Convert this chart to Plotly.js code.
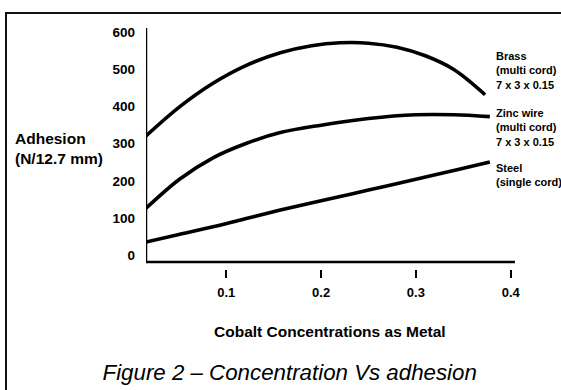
<!DOCTYPE html>
<html>
<head>
<meta charset="utf-8">
<script src="https://cdn.plot.ly/plotly-3.0.1.min.js"></script>
<style>
  html, body { margin: 0; padding: 0; background: #fff; overflow: hidden; }
  #chart { position: absolute; left: 0; top: 0; width: 561px; height: 390px; }
  #frame { position: absolute; left: 5px; top: 12px; width: 600px; height: 420px;
           border: 2px solid #111; box-sizing: border-box; pointer-events: none; }
</style>
</head>
<body>
<div id="chart"></div>
<div id="frame"></div>
<script>
// Cobalt concentration (as metal)
const brassX = [0.0153, 0.051, 0.086, 0.12, 0.157, 0.19, 0.22, 0.25, 0.28, 0.31, 0.34, 0.373];
const brassY = [321, 400, 463, 510, 545, 564, 572, 571, 560, 537, 500, 432];
const zincX  = [0.0153, 0.051, 0.086, 0.12, 0.157, 0.20, 0.25, 0.30, 0.34, 0.378];
const zincY  = [126, 205, 262, 300, 330, 350, 368, 378, 378, 373];
const steelX = [0.0153, 0.05, 0.086, 0.12, 0.157, 0.20, 0.25, 0.30, 0.34, 0.378];
const steelY = [35, 55, 76, 98, 121, 146, 175, 204, 228, 251];

const xTicks = [0.1, 0.2, 0.3, 0.4];
const xTickText = ['0.1', '0.2', '0.3', '0.4'];
const yTicks = [0, 100, 200, 300, 400, 500, 600];
const yTickText = ['0', '100', '200', '300', '400', '500', '600'];

const labelBrass = 'Brass<br>(multi cord)<br>7 x 3 x 0.15';
const labelZinc  = 'Zinc wire<br>(multi cord)<br>7 x 3 x 0.15';
const labelSteel = 'Steel<br>(single cord)';
const yTitle = 'Adhesion<br>(N/12.7 mm)';
const xTitle = 'Cobalt Concentrations as Metal';
const caption = 'Figure 2 – Concentration Vs adhesion';

const FONT = '"Liberation Sans", Arial, Helvetica, sans-serif';
const lineStyle = {color: '#000', width: 3.6, shape: 'spline', smoothing: 1.0};

const traces = [
  {x: brassX, y: brassY, mode: 'lines', line: lineStyle, name: 'Brass', hoverinfo: 'skip'},
  {x: zincX,  y: zincY,  mode: 'lines', line: lineStyle, name: 'Zinc wire', hoverinfo: 'skip'},
  {x: steelX, y: steelY, mode: 'lines', line: lineStyle, name: 'Steel', hoverinfo: 'skip'}
];

const xMin = 0.0153, xMax = 0.4056, yMin = -37.7, yMax = 611.9, yAxisAt = -19;
const labelFont = {family: FONT, size: 11, weight: 'bold', color: '#000'};
const labelX = (494 - 146) / 370;

const layout = {
  width: 561, height: 390,
  margin: {l: 146, r: 45, t: 28, b: 121},
  paper_bgcolor: '#fff', plot_bgcolor: '#fff',
  showlegend: false,
  font: {family: FONT, color: '#000'},
  title: {
    text: caption,
    font: {family: FONT, size: 22.3, style: 'italic', color: '#000'},
    xref: 'container', yref: 'container',
    x: 289.7 / 561, y: 1 - 372 / 390, xanchor: 'center', yanchor: 'middle'
  },
  xaxis: {
    range: [xMin, xMax], showgrid: false, zeroline: false, showline: false,
    tickvals: xTicks, ticktext: xTickText,
    ticks: 'outside', ticklen: 8, tickwidth: 2.2, tickcolor: '#000',
    ticklabelstandoff: 3,
    tickfont: {family: FONT, size: 13, weight: 'bold', color: '#000'}
  },
  yaxis: {
    range: [yMin, yMax], showgrid: false, zeroline: false, showline: false,
    tickvals: yTicks, ticktext: yTickText,
    ticks: '', ticklabelstandoff: 10,
    tickfont: {family: FONT, size: 13.5, weight: 'bold', color: '#000'}
  },
  shapes: [
    {type: 'line', xref: 'x', yref: 'y', x0: xMin, x1: 0.4045, y0: yAxisAt, y1: yAxisAt,
     line: {color: '#000', width: 2.5}},
    {type: 'line', xref: 'x', yref: 'y', x0: xMin, x1: xMin, y0: yAxisAt, y1: yMax,
     line: {color: '#000', width: 2.5}}
  ],
  annotations: [
    {text: yTitle, xref: 'paper', yref: 'paper', x: (13 - 146) / 370, y: 0.5,
     xanchor: 'left', yanchor: 'middle', align: 'left', showarrow: false,
     font: {family: FONT, size: 15.5, weight: 'bold', color: '#000'}},
    {text: xTitle, xref: 'paper', yref: 'paper', x: 0.496, y: (269 - 331) / 241,
     xanchor: 'center', yanchor: 'middle', showarrow: false,
     font: {family: FONT, size: 15.5, weight: 'bold', color: '#000'}},
    {text: labelBrass, xref: 'paper', yref: 'paper', x: labelX, y: (269 - 70) / 241,
     xanchor: 'left', yanchor: 'middle', align: 'left', showarrow: false, font: labelFont},
    {text: labelZinc, xref: 'paper', yref: 'paper', x: labelX, y: (269 - 127) / 241,
     xanchor: 'left', yanchor: 'middle', align: 'left', showarrow: false, font: labelFont},
    {text: labelSteel, xref: 'paper', yref: 'paper', x: labelX, y: (269 - 174.5) / 241,
     xanchor: 'left', yanchor: 'middle', align: 'left', showarrow: false, font: labelFont}
  ]
};

Plotly.newPlot('chart', traces, layout, {staticPlot: true, displayModeBar: false});
</script>
</body>
</html>
